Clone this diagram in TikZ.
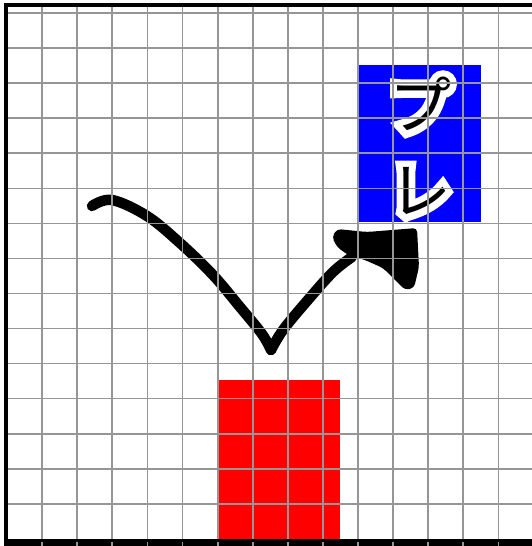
\documentclass[tikz,border=0pt]{standalone}
\usepackage{fontspec}
\newfontfamily\jpfont{Noto Sans CJK JP}
\newfontfamily\jphalo[FakeBold=22]{Noto Sans CJK JP}
\definecolor{gridgray}{RGB}{150,150,150}
\definecolor{pureblue}{RGB}{0,0,255}
\definecolor{purered}{RGB}{255,0,0}
\begin{document}
\begin{tikzpicture}[x=1pt,y=-1pt,
  gridline/.style={draw=gridgray,line width=1.8pt},
  penstroke/.style={line width=10.5pt,line cap=round,line join=round,draw=black},
  labeltext/.style={align=center, inner sep=0pt},
  framebar/.style={fill=black}]
\useasboundingbox (0,0) rectangle (532,546);
\fill[white] (0,0) rectangle (532,546);
% coloured bars
\fill[purered] (218.2,380.3) rectangle (340,539);
\fill[pureblue] (359.3,64.7) rectangle (480.7,222.3);
% label: white halo under black text
\node[labeltext, font=\jphalo\fontsize{62}{85}\selectfont, text=white] (halo) at (420,146) {プ\\レ};
\node[labeltext, font=\jpfont\fontsize{62}{85}\selectfont, text=black] (label) at (halo) {プ\\レ};
% hand-drawn arrow
\coordinate (start) at (92,206);
\coordinate (dip) at (271,350);
\coordinate (tipbase) at (352,257);
\draw[penstroke] plot[smooth,tension=0.6] coordinates {(start) (112,200) (147,216) (180,243) (213,275) (240,307) (262,334) (dip)};
\draw[penstroke] plot[smooth,tension=0.6] coordinates {(dip) (283,330) (307,301) (333,272) (tipbase)};
\fill[black,rounded corners=4pt] (332,237) -- (337,229) -- (367,232) -- (417,228) -- (419,267) -- (414,288) -- (405,290) -- (383,268) -- (365,260) -- (348,255) -- (337,247) -- cycle;
% bottom bar
\fill[framebar] (4,539.3) rectangle (532,546);
% grid
\foreach \k in {1,...,14} {
  \draw[gridline] ({7+35.1*\k},6.7) -- ({7+35.1*\k},538.7);
  \draw[gridline] ({7+35.1*\k},541.5) -- ({7+35.1*\k},545.5);
}
\foreach \k in {1,...,15} {
  \draw[gridline] (7.5,{538.7-35.03*\k}) -- (532,{538.7-35.03*\k});
}
% frame
\fill[framebar] (4,3.3) rectangle (7.5,546);
\fill[framebar] (4,3.3) rectangle (532,6.7);
\end{tikzpicture}
\end{document}
